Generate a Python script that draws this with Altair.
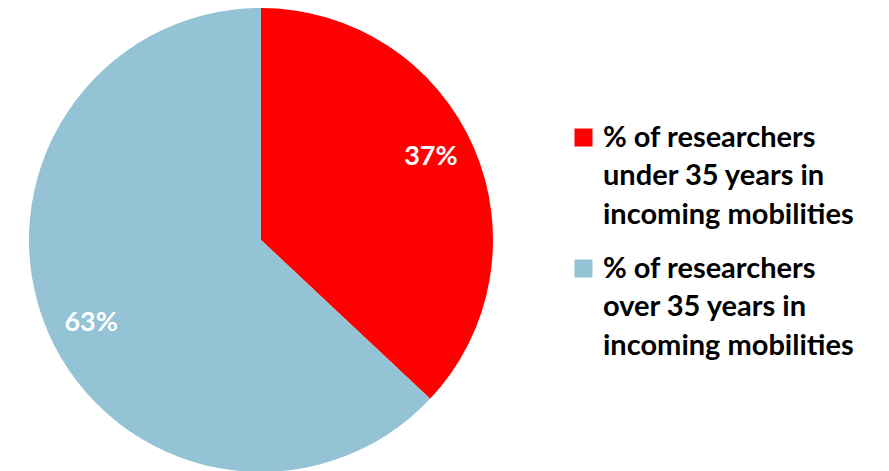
import altair as alt
import pandas as pd

categories = [
    "% of researchers under 35 years in incoming mobilities",
    "% of researchers over 35 years in incoming mobilities",
]
label_lines = [
    "% of researchers|under 35 years in|incoming mobilities",
    "% of researchers|over 35 years in|incoming mobilities",
]
values = [37, 63]
pct_labels = ["37%", "63%"]
colors = ["#FF0000", "#93C3D4"]
order = [0, 1]

df = pd.DataFrame({
    "category": categories,
    "value": values,
    "pct": pct_labels,
    "order": order,
})

FONT = "Lato"

base = alt.Chart(df).encode(
    theta=alt.Theta("value:Q", stack=True),
    order=alt.Order("order:Q"),
)

arc = base.mark_arc(outerRadius=232).encode(
    color=alt.Color(
        "category:N",
        sort=categories,
        scale=alt.Scale(domain=categories, range=colors),
        legend=alt.Legend(
            title=None,
            orient="none",
            legendX=561,
            legendY=115,
            symbolType="square",
            symbolSize=324,
            symbolStrokeWidth=0,
            labelFont=FONT,
            labelFontSize=29,
            labelFontWeight="bold",
            labelColor="#000000",
            labelLimit=400,
            labelBaseline="alphabetic",
            labelOffset=5,
            rowPadding=24,
            labelExpr="split(datum.label == '" + categories[0] + "' ? '" + label_lines[0] + "' : '" + label_lines[1] + "', '|')",
        ),
    )
)

text = base.mark_text(
    radius=189, thetaOffset=-0.045, font=FONT, fontSize=27, fontWeight="bold", color="white"
).encode(text="pct:N")

chart = (
    alt.layer(arc, text)
    .properties(width=506, height=464, padding=0)
    .configure_view(stroke=None)
    .configure(style={"guide-label": {"lineHeight": 38.5, "dy": 9}})
)

chart.save("out.html", embed_options={"renderer": "svg", "actions": False})
